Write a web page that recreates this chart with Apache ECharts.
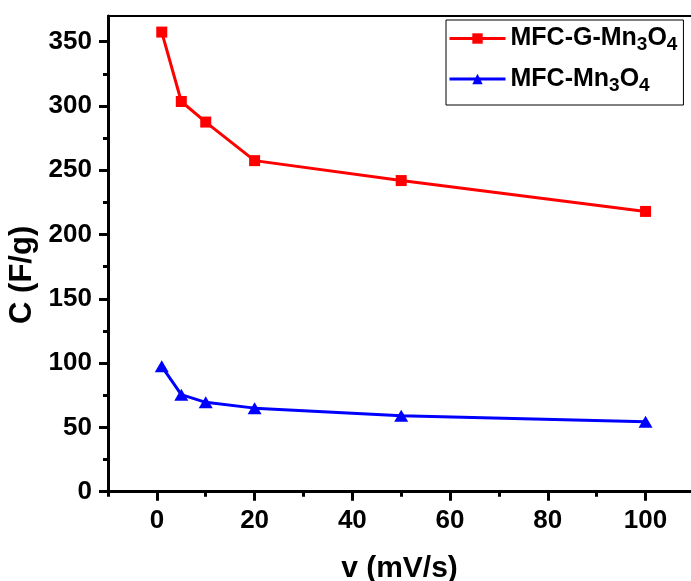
<!DOCTYPE html>
<html>
<head>
<meta charset="utf-8">
<script src="https://cdn.jsdelivr.net/npm/echarts@6/dist/echarts.min.js"></script>
<style>
html,body{margin:0;padding:0;background:#fff;}
#chart{width:691px;height:581px;}
</style>
</head>
<body>
<div id="chart"></div>
<script>
// Data
const scanRates = [1, 5, 10, 20, 50, 100];
const mfcGMn3O4 = [357.5, 303.5, 287.5, 257.5, 242, 218];
const mfcMn3O4 = [97.5, 75.5, 69.5, 65, 59, 54.5];
const seriesNames = ['MFC-G-Mn3O4', 'MFC-Mn3O4'];
const xMajorTicks = [0, 20, 40, 60, 80, 100];
const xMinorTicks = [-10, 10, 30, 50, 70, 90];
const yMajorTicks = [0, 50, 100, 150, 200, 250, 300, 350];
const yMinorTicks = [25, 75, 125, 175, 225, 275, 325];

const FONT = '"Liberation Sans", Arial, sans-serif';
const chart = echarts.init(document.getElementById('chart'), null, {renderer: 'canvas'});

const xMin = -10, xMax = 109.3, yMin = 0, yMax = 370;

function pairs(xs, ys) { return xs.map((x, i) => [x, ys[i]]); }

const legendFormat = {
  'MFC-G-Mn3O4': '{n|MFC-G-Mn}{s|3}{n|O}{s|4}',
  'MFC-Mn3O4': '{n|MFC-Mn}{s|3}{n|O}{s|4}'
};

const option = {
  animation: false,
  backgroundColor: '#fff',
  grid: {left: 108, right: 0, top: 16, bottom: 89.3, containLabel: false, outerBoundsMode: 'none'},
  legend: {
    left: 446, top: 20,
    orient: 'vertical',
    itemWidth: 56, itemHeight: 13, itemGap: 12,
    padding: [6, 6, 10, 2],
    borderColor: '#000', borderWidth: 1,
    data: seriesNames,
    formatter: name => legendFormat[name],
    lineStyle: {width: 3},
    textStyle: {
      fontFamily: FONT, fontWeight: 'bold', color: '#000',
      rich: {
        n: {fontFamily: FONT, fontWeight: 'bold', fontSize: 25, lineHeight: 32, verticalAlign: 'middle', color: '#000'},
        s: {fontFamily: FONT, fontWeight: 'bold', fontSize: 19, lineHeight: 14, verticalAlign: 'bottom', color: '#000'}
      }
    }
  },
  xAxis: [
    {
      type: 'value', min: xMin, max: xMax, position: 'bottom',
      name: 'v (mV/s)', nameLocation: 'middle', nameGap: 62,
      nameTextStyle: {fontFamily: FONT, fontWeight: 'bold', fontSize: 30, color: '#000'},
      axisLine: {show: true, onZero: false, lineStyle: {color: '#000', width: 3}},
      axisTick: {show: true, customValues: xMajorTicks, length: 9, inside: false, lineStyle: {color: '#000', width: 3}},
      axisLabel: {show: true, customValues: xMajorTicks, margin: 16, fontFamily: FONT, fontWeight: 'bold', fontSize: 26, color: '#000'},
      splitLine: {show: false}
    },
    {
      type: 'value', min: xMin, max: xMax, position: 'bottom',
      axisLine: {show: false, onZero: false},
      axisTick: {show: true, customValues: xMinorTicks, length: 5, lineStyle: {color: '#000', width: 3}},
      axisLabel: {show: false},
      splitLine: {show: false}
    },
    {
      type: 'value', min: xMin, max: xMax, position: 'top',
      axisLine: {show: true, onZero: false, lineStyle: {color: '#000', width: 2}},
      axisTick: {show: false},
      axisLabel: {show: false},
      splitLine: {show: false}
    }
  ],
  yAxis: [
    {
      type: 'value', min: yMin, max: yMax, position: 'left',
      name: 'C (F/g)', nameLocation: 'middle', nameGap: 64, nameRotate: 90,
      nameTextStyle: {fontFamily: FONT, fontWeight: 'bold', fontSize: 31, color: '#000', padding: [0, 42, 0, 0]},
      axisLine: {show: true, onZero: false, lineStyle: {color: '#000', width: 3}},
      axisTick: {show: true, customValues: yMajorTicks, length: 9, lineStyle: {color: '#000', width: 3}},
      axisLabel: {show: true, customValues: yMajorTicks, margin: 16, fontFamily: FONT, fontWeight: 'bold', fontSize: 26, color: '#000'},
      splitLine: {show: false}
    },
    {
      type: 'value', min: yMin, max: yMax, position: 'left',
      axisLine: {show: false, onZero: false},
      axisTick: {show: true, customValues: yMinorTicks, length: 5, lineStyle: {color: '#000', width: 3}},
      axisLabel: {show: false},
      splitLine: {show: false}
    }
  ],
  series: [
    {
      name: seriesNames[0], type: 'line', xAxisIndex: 0, yAxisIndex: 0,
      data: pairs(scanRates, mfcGMn3O4),
      symbol: 'rect', symbolSize: 11,
      lineStyle: {color: '#ff0000', width: 3},
      itemStyle: {color: '#ff0000'},
      emphasis: {disabled: true}
    },
    {
      name: seriesNames[1], type: 'line', xAxisIndex: 0, yAxisIndex: 0,
      data: pairs(scanRates, mfcMn3O4),
      symbol: 'triangle', symbolSize: [14, 12],
      lineStyle: {color: '#0000ff', width: 3},
      itemStyle: {color: '#0000ff'},
      emphasis: {disabled: true}
    }
  ]
};
chart.setOption(option);
</script>
</body>
</html>
